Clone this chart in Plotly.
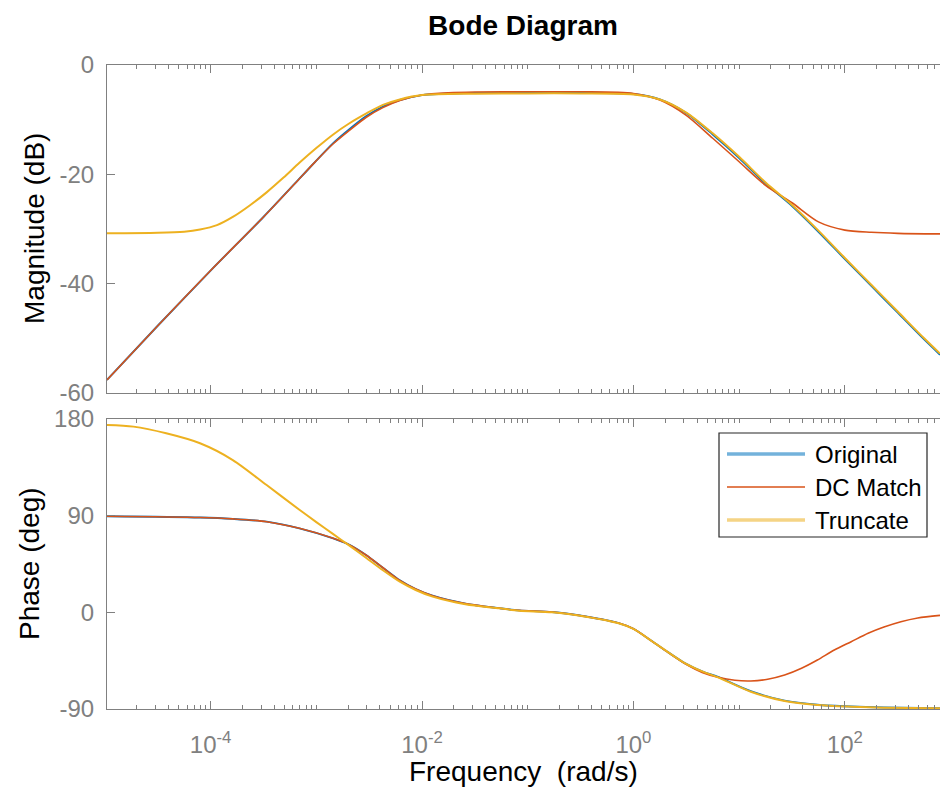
import plotly.graph_objects as go

# ---------------- data (log10 of frequency in rad/s) ----------------
# Magnitude (dB)
mag_orig_logw = [-4.98, -4.5, -4.0, -3.5, -3.16, -3.0, -2.84, -2.69, -2.53, -2.37, -2.21, -2.0, -1.5, -1.0,
                 -0.5, 0.0, 0.25, 0.5, 0.75, 1.0, 1.25, 1.5, 1.75, 2.0, 2.25, 2.5, 2.75, 2.9]
mag_orig_db = [-57.6, -47.7, -37.6, -27.8, -20.8, -17.5, -14.3, -11.8, -9.4, -7.6, -6.4, -5.5, -5.1, -5.05,
               -5.05, -5.3, -6.3, -8.8, -12.7, -17.0, -21.7, -25.8, -30.5, -35.5, -40.4, -45.3, -50.2, -53.0]

mag_dc_logw = [-4.98, -4.5, -4.0, -3.5, -3.16, -3.0, -2.84, -2.69, -2.53, -2.37, -2.21, -2.0, -1.75, -1.5,
               -1.0, -0.5, 0.0, 0.25, 0.5, 0.75, 1.0, 1.25, 1.5, 1.75, 2.0, 2.25, 2.5, 2.9]
mag_dc_db = [-57.6, -47.7, -37.6, -27.8, -20.8, -17.5, -14.4, -12.0, -9.6, -7.8, -6.5, -5.5, -5.1, -4.95,
             -4.9, -4.9, -5.2, -6.4, -9.2, -13.4, -17.7, -22.0, -25.2, -28.7, -30.2, -30.6, -30.8, -30.9]

mag_tr_logw = [-4.98, -4.5, -4.25, -4.1, -3.94, -3.79, -3.63, -3.47, -3.31, -3.16, -3.0, -2.84, -2.69, -2.53,
               -2.37, -2.21, -2.0, -1.5, -1.0, -0.5, 0.0, 0.25, 0.5, 0.75, 1.0, 1.25, 1.5, 1.75, 2.0, 2.25,
               2.5, 2.75, 2.9]
mag_tr_db = [-30.8, -30.7, -30.5, -30.1, -29.3, -27.8, -25.7, -23.3, -20.6, -17.9, -15.2, -12.7, -10.7, -8.9,
             -7.3, -6.3, -5.5, -5.25, -5.2, -5.2, -5.4, -6.3, -8.7, -12.5, -16.8, -21.5, -25.6, -30.3, -35.3,
             -40.2, -45.1, -50.0, -52.8]

# Phase (deg)
ph_orig_logw = [-4.98, -4.10, -3.79, -3.47, -3.16, -2.84, -2.70, -2.53, -2.37, -2.21, -2.06, -1.90, -1.59,
                -1.27, -1.08, -0.77, -0.45, -0.14, 0.0, 0.17, 0.33, 0.49, 0.65, 0.80, 1.11, 1.43, 1.74, 2.06,
                2.37, 2.9]
ph_orig_deg = [89.5, 88.3, 87.0, 84.4, 78.2, 68.9, 63.5, 53.4, 41.5, 29.8, 21.7, 15.5, 8.1,
               3.9, 1.8, 0.3, -3.9, -10.0, -15.3, -26.5, -37.3, -47.5, -55.0, -60.2, -73.4, -82.2, -86.0, -87.7,
               -88.6, -89.3]

ph_dc_logw = [-4.98, -4.10, -3.79, -3.47, -3.16, -2.84, -2.70, -2.53, -2.37, -2.21, -2.06, -1.90, -1.59,
              -1.27, -1.08, -0.77, -0.45, -0.14, 0.0, 0.17, 0.33, 0.49, 0.65, 0.80, 0.96, 1.11, 1.27, 1.43,
              1.59, 1.74, 1.90, 2.06, 2.22, 2.37, 2.53, 2.69, 2.9]
ph_dc_deg = [89.5, 88.3, 87.0, 84.4, 78.2, 68.9, 63.5, 53.4, 41.5, 29.8, 21.7, 15.5, 8.1,
             3.9, 1.8, 0.3, -3.9, -10.0, -15.3, -26.5, -37.5, -48.0, -56.0, -60.5, -63.3, -63.9, -62.3, -58.4,
             -52.1, -44.4, -35.1, -27.3, -19.5, -13.7, -8.7, -5.2, -2.8]

ph_tr_logw = [-4.98, -4.73, -4.42, -4.10, -3.79, -3.47, -3.16, -3.0, -2.84, -2.70, -2.53, -2.37, -2.21,
              -2.06, -1.90, -1.59, -1.27, -1.08, -0.77, -0.45, -0.14, 0.0, 0.17, 0.33, 0.49, 0.65, 0.80,
              1.11, 1.43, 1.74, 2.06, 2.37, 2.9]
ph_tr_deg = [174.4, 172.9, 166.7, 157.4, 141.8, 118.5, 95.5, 84.0, 72.8, 63.0, 50.8, 39.2, 28.5,
             20.8, 14.6, 7.5, 3.7, 1.5, 0.0, -4.1, -10.2, -15.5, -26.5, -37.3, -47.5, -55.0, -60.5,
             -73.9, -82.6, -86.3, -87.9, -88.8, -89.4]

series_names = ["Original", "DC Match", "Truncate"]
x_tick_vals = [1e-4, 1e-2, 1e0, 1e2]
x_tick_text = ["10<sup>-4</sup>", "10<sup>-2</sup>", "10<sup>0</sup>", "10<sup>2</sup>"]
mag_ticks = [-60, -40, -20, 0]
mag_tick_text = ["-60", "-40", "-20", "0"]
ph_ticks = [-90, 0, 90, 180]
ph_tick_text = ["-90", "0", "90", "180"]

# ---------------- styling ----------------
C_BLUE = "#0072BD"
C_RED = "#D95319"
C_YEL = "#EDB120"
AX = "#808080"
FONT = "Liberation Sans, Arial, Helvetica, sans-serif"

W, H = 940, 787
L, R, T, B = 107, 0, 65, 78
PH = H - T - B
top_dom = [(709 - 393) / PH, 1.0]
bot_dom = [0.0, (709 - 419) / PH]


def w(logs):
    return [10 ** v for v in logs]


fig = go.Figure()
specs = [
    (mag_orig_logw, mag_orig_db, ph_orig_logw, ph_orig_deg, C_BLUE, 1.9, series_names[0]),
    (mag_dc_logw, mag_dc_db, ph_dc_logw, ph_dc_deg, C_RED, 1.6, series_names[1]),
    (mag_tr_logw, mag_tr_db, ph_tr_logw, ph_tr_deg, C_YEL, 2.0, series_names[2]),
]
for mlw, mdb, plw, pdg, col, lw, nm in specs:
    fig.add_trace(go.Scatter(x=w(mlw), y=mdb, mode="lines", name=nm, showlegend=False,
                             line=dict(color=col, width=lw, shape="spline", smoothing=0.8),
                             xaxis="x", yaxis="y"))
    fig.add_trace(go.Scatter(x=w(plw), y=pdg, mode="lines", name=nm, showlegend=False,
                             line=dict(color=col, width=lw, shape="spline", smoothing=0.8),
                             xaxis="x2", yaxis="y2"))

xcommon = dict(type="log", range=[-4.98, 2.9], showline=True, linecolor=AX, linewidth=1.2,
               mirror="ticks", ticks="inside", ticklen=8, tickcolor=AX, tickwidth=1.2,
               tickmode="array", tickvals=x_tick_vals, ticktext=x_tick_text,
               showgrid=False, zeroline=False,
               minor=dict(ticks="inside", ticklen=4, tickcolor=AX, tickwidth=1.2, dtick="D1", showgrid=False),
               tickfont=dict(family=FONT, size=24, color=AX), ticklabelstandoff=14)
ycommon = dict(showline=True, linecolor=AX, linewidth=1.2, mirror=False, ticks="inside", ticklen=8,
               tickcolor=AX, tickwidth=1.2, showgrid=False, zeroline=False, tickmode="array",
               tickfont=dict(family=FONT, size=24, color=AX), ticklabelstandoff=7)

fig.update_layout(
    width=W, height=H, margin=dict(l=L, r=R, t=T, b=B), autosize=False,
    paper_bgcolor="white", plot_bgcolor="white",
    font=dict(family=FONT, color="#000000"),
    xaxis=dict(**xcommon, domain=[0, 1], anchor="y", showticklabels=False, matches="x2"),
    yaxis=dict(**ycommon, domain=top_dom, anchor="x", range=[-60, 0], tickvals=mag_ticks,
               ticktext=mag_tick_text),
    xaxis2=dict(**xcommon, domain=[0, 1], anchor="y2", showticklabels=True),
    yaxis2=dict(**ycommon, domain=bot_dom, anchor="x2", range=[-90, 180], tickvals=ph_ticks,
                ticktext=ph_tick_text),
    title=dict(text="<b>Bode Diagram</b>", x=523 / W, xanchor="center", y=1 - 25 / H, yanchor="middle",
               font=dict(family=FONT, size=28, color="#000000")),
    showlegend=False,
)


def py(Y):
    return (709 - Y) / PH


def px(X):
    return (X - L) / (W - L - R)


ann = [
    dict(text="Frequency\u00a0 (rad/s)", x=px(523), y=py(771), xref="paper", yref="paper",
         showarrow=False, xanchor="center", yanchor="middle", font=dict(family=FONT, size=28, color="#000")),
    dict(text="Magnitude (dB)", x=px(34), y=py(229), xref="paper", yref="paper", textangle=-90,
         showarrow=False, xanchor="center", yanchor="middle", font=dict(family=FONT, size=28, color="#000")),
    dict(text="Phase (deg)", x=px(29), y=py(564), xref="paper", yref="paper", textangle=-90,
         showarrow=False, xanchor="center", yanchor="middle", font=dict(family=FONT, size=28, color="#000")),
]
shapes = [dict(type="rect", xref="paper", yref="paper", x0=px(719), x1=px(927), y0=py(537), y1=py(433),
               line=dict(color="#262626", width=1.2), fillcolor="white", layer="above")]
leg_y = [454, 487, 520]
leg_cols = [("rgba(0,114,189,0.55)", 3.5), (C_RED, 1.6), ("rgba(237,177,32,0.55)", 3.5)]
for name, Y, (col, lw) in zip(series_names, leg_y, leg_cols):
    shapes.append(dict(type="line", xref="paper", yref="paper", x0=px(727), x1=px(805), y0=py(Y), y1=py(Y),
                       line=dict(color=col, width=lw), layer="above"))
    ann.append(dict(text=name, x=px(813), y=py(Y), xref="paper", yref="paper", showarrow=False,
                    xanchor="left", yanchor="middle", font=dict(family=FONT, size=24, color="#000")))

fig.update_layout(annotations=ann, shapes=shapes)
fig.write_html("out.html", config={"displayModeBar": False},
               post_script="document.body.style.margin='0';document.body.style.overflow='hidden';")
